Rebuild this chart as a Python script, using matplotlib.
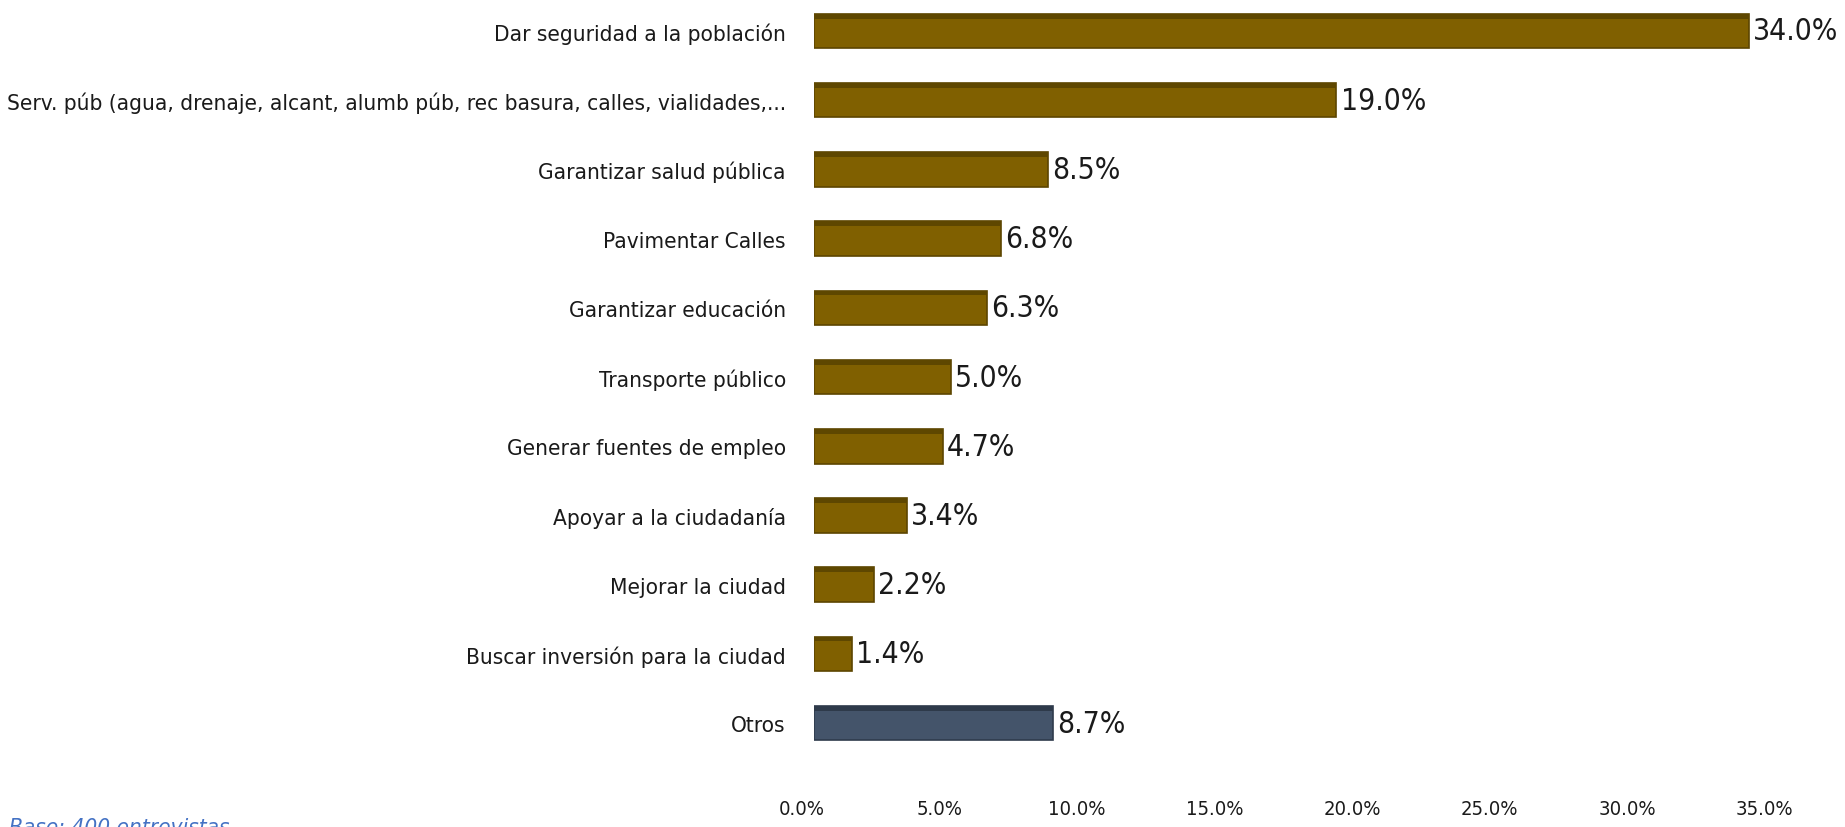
import matplotlib
matplotlib.use("Agg")
import matplotlib.pyplot as plt
import matplotlib.transforms as mtransforms
from matplotlib import font_manager

categories = [
    "Dar seguridad a la población",
    "Serv. púb (agua, drenaje, alcant, alumb púb, rec basura, calles, vialidades,...",
    "Garantizar salud pública",
    "Pavimentar Calles",
    "Garantizar educación",
    "Transporte público",
    "Generar fuentes de empleo",
    "Apoyar a la ciudadanía",
    "Mejorar la ciudad",
    "Buscar inversión para la ciudad",
    "Otros",
]
values = [34.0, 19.0, 8.5, 6.8, 6.3, 5.0, 4.7, 3.4, 2.2, 1.4, 8.7]
xticks = [0, 5, 10, 15, 20, 25, 30, 35]
xtick_labels = ["0.0%", "5.0%", "10.0%", "15.0%", "20.0%", "25.0%", "30.0%", "35.0%"]

# choose a narrow font if one is installed
names = {f.name for f in font_manager.fontManager.ttflist}
if "Liberation Sans Narrow" in names:
    fam, s_cat, s_val, s_tick = "Liberation Sans Narrow", 19, 25, 17
    stretch = "normal"
elif any(f.name == "DejaVu Sans" and f.stretch != "normal" for f in font_manager.fontManager.ttflist):
    fam, s_cat, s_val, s_tick = "DejaVu Sans", 16.2, 21.5, 14.5
    stretch = "condensed"
else:
    fam, s_cat, s_val, s_tick = "Liberation Sans", 16.2, 21, 14
    stretch = "normal"

plt.rcParams['font.family'] = [fam, 'DejaVu Sans']
plt.rcParams['font.stretch'] = stretch

fig = plt.figure(figsize=(18.45, 8.28), dpi=100)
ax = fig.add_axes([0.441, 0.046, 0.522, 0.948])

face = ["#806000"] * (len(values) - 1) + ["#44546A"]
edge = ["#5C4500"] * (len(values) - 1) + ["#2F3B4C"]
top = ["#5E4700"] * (len(values) - 1) + ["#2E3A4A"]
ypos = list(range(len(values)))
bar_h = 0.5
ax.barh(ypos, values, height=bar_h, color=face, edgecolor=edge, linewidth=1.2)
# darker top strip to mimic the bevelled look
ax.barh([y - bar_h / 2 + 0.035 for y in ypos], values, height=0.07,
        color=top, linewidth=0)

for y, v in zip(ypos, values):
    ax.annotate(f"{v:.1f}%", (v, y), xytext=(3, 0), textcoords="offset points",
                va="center", ha="left", fontsize=s_val, color="#1a1a1a")

ax.set_xlim(0, 35)
ax.set_ylim(10.95, -0.39)
ax.set_yticks(ypos)
ax.set_yticklabels(categories, fontsize=s_cat, color="#1a1a1a")
ax.set_xticks(xticks)
ax.set_xticklabels(xtick_labels, fontsize=s_tick, color="#1a1a1a")
ax.tick_params(axis="y", length=0, pad=20)
ax.tick_params(axis="x", length=0, pad=7)
offset = mtransforms.ScaledTranslation(-12 / 100, 0, fig.dpi_scale_trans)
for lbl in ax.get_xticklabels():
    lbl.set_transform(lbl.get_transform() + offset)
for s in ax.spines.values():
    s.set_visible(False)

fig.text(0.005, 0.012, "Base: 400 entrevistas", fontsize=s_cat, style="italic",
         color="#4472C4", ha="left", va="top")

fig.savefig("out.png", dpi=100, facecolor="white")
